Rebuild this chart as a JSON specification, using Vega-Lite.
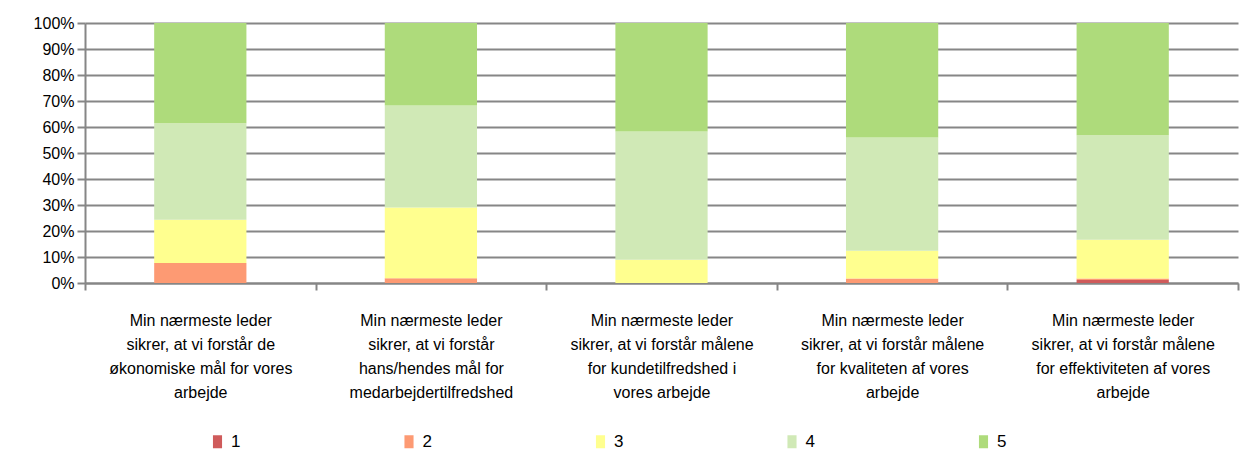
{
  "$schema": "https://vega.github.io/schema/vega-lite/v6.json",
  "width": 1153,
  "height": 260,
  "autosize": {"type": "none"},
  "padding": {"left": 85, "top": 23, "right": 2, "bottom": 169},
  "background": "white",
  "config": {
    "view": {"stroke": null},
    "font": "Liberation Sans",
    "axis": {"labelFont": "Liberation Sans", "labelColor": "#000000", "labelFontSize": 16}
  },
  "data": {
    "values": [
      {"q": "Min nærmeste leder|sikrer, at vi forstår de|økonomiske mål for vores|arbejde", "idx": 1, "rating": "1", "pct": 0},
      {"q": "Min nærmeste leder|sikrer, at vi forstår de|økonomiske mål for vores|arbejde", "idx": 1, "rating": "2", "pct": 7.7},
      {"q": "Min nærmeste leder|sikrer, at vi forstår de|økonomiske mål for vores|arbejde", "idx": 1, "rating": "3", "pct": 16.6},
      {"q": "Min nærmeste leder|sikrer, at vi forstår de|økonomiske mål for vores|arbejde", "idx": 1, "rating": "4", "pct": 37.1},
      {"q": "Min nærmeste leder|sikrer, at vi forstår de|økonomiske mål for vores|arbejde", "idx": 1, "rating": "5", "pct": 38.6},
      {"q": "Min nærmeste leder|sikrer, at vi forstår|hans/hendes mål for|medarbejdertilfredshed", "idx": 2, "rating": "1", "pct": 0},
      {"q": "Min nærmeste leder|sikrer, at vi forstår|hans/hendes mål for|medarbejdertilfredshed", "idx": 2, "rating": "2", "pct": 1.8},
      {"q": "Min nærmeste leder|sikrer, at vi forstår|hans/hendes mål for|medarbejdertilfredshed", "idx": 2, "rating": "3", "pct": 27.2},
      {"q": "Min nærmeste leder|sikrer, at vi forstår|hans/hendes mål for|medarbejdertilfredshed", "idx": 2, "rating": "4", "pct": 39.3},
      {"q": "Min nærmeste leder|sikrer, at vi forstår|hans/hendes mål for|medarbejdertilfredshed", "idx": 2, "rating": "5", "pct": 31.7},
      {"q": "Min nærmeste leder|sikrer, at vi forstår målene|for kundetilfredshed i|vores arbejde", "idx": 3, "rating": "1", "pct": 0},
      {"q": "Min nærmeste leder|sikrer, at vi forstår målene|for kundetilfredshed i|vores arbejde", "idx": 3, "rating": "2", "pct": 0},
      {"q": "Min nærmeste leder|sikrer, at vi forstår målene|for kundetilfredshed i|vores arbejde", "idx": 3, "rating": "3", "pct": 8.9},
      {"q": "Min nærmeste leder|sikrer, at vi forstår målene|for kundetilfredshed i|vores arbejde", "idx": 3, "rating": "4", "pct": 49.4},
      {"q": "Min nærmeste leder|sikrer, at vi forstår målene|for kundetilfredshed i|vores arbejde", "idx": 3, "rating": "5", "pct": 41.7},
      {"q": "Min nærmeste leder|sikrer, at vi forstår målene|for kvaliteten af vores|arbejde", "idx": 4, "rating": "1", "pct": 0},
      {"q": "Min nærmeste leder|sikrer, at vi forstår målene|for kvaliteten af vores|arbejde", "idx": 4, "rating": "2", "pct": 1.7},
      {"q": "Min nærmeste leder|sikrer, at vi forstår målene|for kvaliteten af vores|arbejde", "idx": 4, "rating": "3", "pct": 10.7},
      {"q": "Min nærmeste leder|sikrer, at vi forstår målene|for kvaliteten af vores|arbejde", "idx": 4, "rating": "4", "pct": 43.6},
      {"q": "Min nærmeste leder|sikrer, at vi forstår målene|for kvaliteten af vores|arbejde", "idx": 4, "rating": "5", "pct": 44.0},
      {"q": "Min nærmeste leder|sikrer, at vi forstår målene|for effektiviteten af vores|arbejde", "idx": 5, "rating": "1", "pct": 1.2},
      {"q": "Min nærmeste leder|sikrer, at vi forstår målene|for effektiviteten af vores|arbejde", "idx": 5, "rating": "2", "pct": 0.5},
      {"q": "Min nærmeste leder|sikrer, at vi forstår målene|for effektiviteten af vores|arbejde", "idx": 5, "rating": "3", "pct": 14.9},
      {"q": "Min nærmeste leder|sikrer, at vi forstår målene|for effektiviteten af vores|arbejde", "idx": 5, "rating": "4", "pct": 40.2},
      {"q": "Min nærmeste leder|sikrer, at vi forstår målene|for effektiviteten af vores|arbejde", "idx": 5, "rating": "5", "pct": 43.2}
    ]
  },
  "mark": {"type": "bar", "width": {"band": 0.4}},
  "encoding": {
    "x": {
      "field": "q",
      "type": "nominal",
      "sort": {"field": "idx", "op": "min", "order": "ascending"},
      "scale": {"paddingInner": 0, "paddingOuter": 0},
      "axis": {
        "title": null,
        "labelAngle": 0,
        "labelExpr": "split(datum.label, '|')",
        "labelLimit": 0,
        "labelOverlap": false,
        "labelBaseline": "top",
        "labelLineHeight": 24,
        "labelPadding": 22,
        "labelFontSize": 16,
        "tickBand": "extent",
        "tickSize": 7,
        "tickColor": "#868686",
        "tickWidth": 2,
        "domainColor": "#868686",
        "domainWidth": 2,
        "grid": false
      }
    },
    "y": {
      "field": "pct",
      "type": "quantitative",
      "stack": "normalize",
      "scale": {"domain": [0, 1], "nice": false},
      "axis": {
        "title": null,
        "format": ".0%",
        "values": [0, 0.1, 0.2, 0.3, 0.4, 0.5, 0.6, 0.7, 0.8, 0.9, 1],
        "grid": true,
        "gridColor": "#868686",
        "gridWidth": 2,
        "tickColor": "#868686",
        "tickWidth": 2,
        "tickSize": 8,
        "domainColor": "#868686",
        "domainWidth": 2,
        "labelPadding": 3,
        "labelFontSize": 16
      }
    },
    "order": {"field": "rating", "type": "ordinal", "sort": "ascending"},
    "color": {
      "field": "rating",
      "type": "nominal",
      "scale": {
        "domain": ["1", "2", "3", "4", "5"],
        "range": ["#cf5b5b", "#fd9a73", "#ffff8f", "#d0e9b6", "#aedb7b"]
      },
      "legend": {
        "title": null,
        "orient": "none",
        "legendX": 124,
        "legendY": 410,
        "direction": "horizontal",
        "columns": 5,
        "columnPadding": 159.5,
        "padding": 0,
        "symbolType": "M-0.7,-1H0.7V1H-0.7Z",
        "symbolSize": 169,
        "symbolStrokeWidth": 0,
        "labelFontSize": 17,
        "labelFont": "Liberation Sans",
        "labelColor": "#000000",
        "labelOffset": 5
      }
    }
  }
}
